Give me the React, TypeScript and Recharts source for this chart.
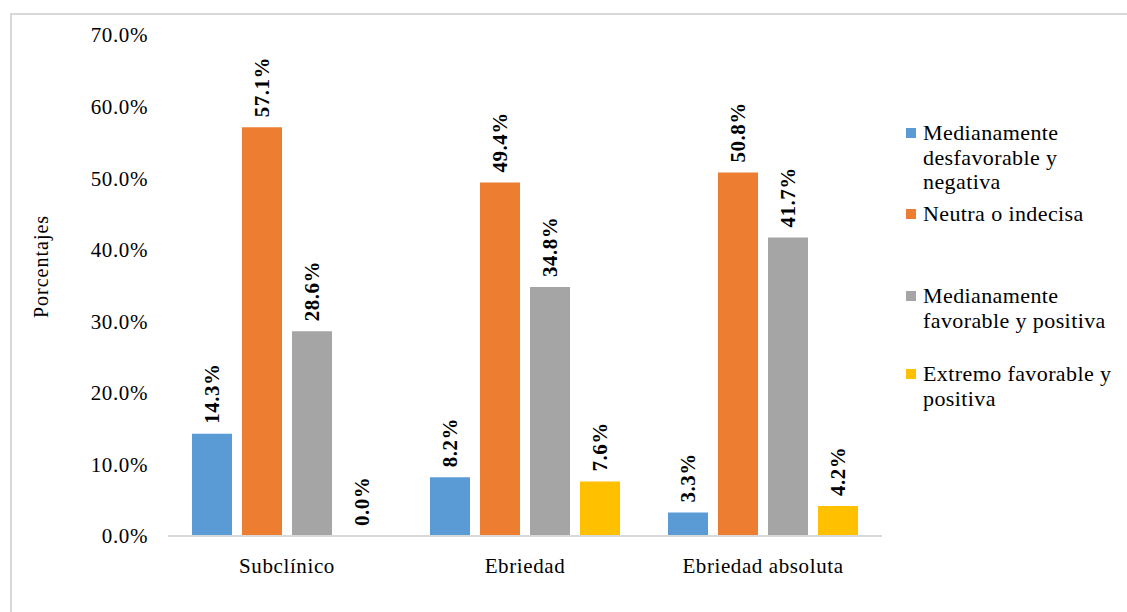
import React from 'react';
import { BarChart, Bar, XAxis, YAxis, LabelList, Cell } from 'recharts';

const categories = ['Subclínico', 'Ebriedad', 'Ebriedad absoluta'];
const desfavorable = [14.3, 8.2, 3.3];
const neutra = [57.1, 49.4, 50.8];
const favorable = [28.6, 34.8, 41.7];
const extremo = [0.0, 7.6, 4.2];
const yTicks = [0, 10, 20, 30, 40, 50, 60, 70];

const series = [
  { key: 'desfavorable', name: 'Medianamente desfavorable y negativa', color: '#5B9BD5', values: desfavorable },
  { key: 'neutra', name: 'Neutra o indecisa', color: '#ED7D31', values: neutra },
  { key: 'favorable', name: 'Medianamente favorable y positiva', color: '#A5A5A5', values: favorable },
  { key: 'extremo', name: 'Extremo favorable y positiva', color: '#FFC000', values: extremo },
];

const data = categories.map((cat, i) => {
  const row: any = { cat };
  series.forEach((s) => (row[s.key] = s.values[i]));
  return row;
});

const FONT = '"Liberation Serif", "DejaVu Serif", serif';

// rotated bold label sitting on top of each bar
const BarLabel = (props: any) => {
  const { x, y, width, height, value } = props;
  const cx = x + width / 2;
  const top = value === 0 ? y + height : y;
  const ty = top - 10;
  return (
    <text
      x={cx}
      y={ty}
      transform={`rotate(-90, ${cx}, ${ty})`}
      textAnchor="start"
      dominantBaseline="central"
      fontFamily={FONT}
      fontWeight="bold"
      fontSize={21}
      letterSpacing={0.5}
      fill="#000"
    >
      {Number(value).toFixed(1)}%
    </text>
  );
};

const YTitle = (props: any) => {
  const { viewBox } = props;
  const x = viewBox.x + 41;
  const y = viewBox.y + viewBox.height / 2 - 19;
  return (
    <text
      x={x}
      y={y}
      transform={`rotate(-90, ${x}, ${y})`}
      textAnchor="middle"
      dominantBaseline="central"
      fontFamily={FONT}
      fontSize={20}
      letterSpacing={1}
      fill="#000"
    >
      Porcentajes
    </text>
  );
};

// legend entries placed like the original (centre of first line)
const legendTops = [133, 214, 296, 374];

export default function App() {
  const tickStyle = { fill: '#000', fontSize: 21, fontFamily: FONT, letterSpacing: 0.6 };
  return (
    <div style={{ position: 'absolute', left: 0, top: 0, width: 1127, height: 612, background: '#fff', overflow: 'hidden' }}>
      <div style={{ position: 'absolute', left: 10, top: 13, width: 1130, height: 620, border: '2px solid #d9d9d9', boxSizing: 'border-box' }} />
      <div style={{ position: 'absolute', left: 0, top: 0 }}>
        <BarChart
          width={1127}
          height={612}
          data={data}
          margin={{ top: 35, right: 245, bottom: 46, left: 0 }}
          barSize={40}
          barGap={10}
          barCategoryGap={24}
        >
          <XAxis
            dataKey="cat"
            axisLine={{ stroke: '#d9d9d9', strokeWidth: 2 }}
            tickLine={false}
            tickMargin={16}
            tick={tickStyle}
          />
          <YAxis
            width={168}
            domain={[0, 70]}
            ticks={yTicks}
            interval={0}
            axisLine={false}
            tickLine={false}
            tickMargin={14}
            tickFormatter={(v: number) => `${v.toFixed(1)}%`}
            tick={tickStyle}
            label={<YTitle />}
          />
          {series.map((s) => (
            <Bar
              key={s.key}
              dataKey={s.key}
              name={s.name}
              fill={s.color}
              minPointSize={(v: number) => (v === 0 ? 1 : 0)}
              isAnimationActive={false}
            >
              {s.values.map((v, i) => (
                <Cell key={i} fill={s.color} fillOpacity={v === 0 ? 0 : 1} />
              ))}
              <LabelList dataKey={s.key} content={<BarLabel />} />
            </Bar>
          ))}
        </BarChart>
      </div>
      {series.map((s, i) => (
        <div
          key={s.key}
          style={{
            position: 'absolute',
            left: 906,
            top: legendTops[i] - 12,
            width: 225,
            display: 'flex',
            alignItems: 'flex-start',
            fontFamily: FONT,
            fontSize: 22,
            letterSpacing: 0.4,
            lineHeight: '24.5px',
            color: '#000',
          }}
        >
          <span style={{ display: 'inline-block', width: 10, height: 10, background: s.color, marginTop: 7, marginRight: 7, flexShrink: 0 }} />
          <span style={{ width: 205 }}>{s.name}</span>
        </div>
      ))}
    </div>
  );
}
